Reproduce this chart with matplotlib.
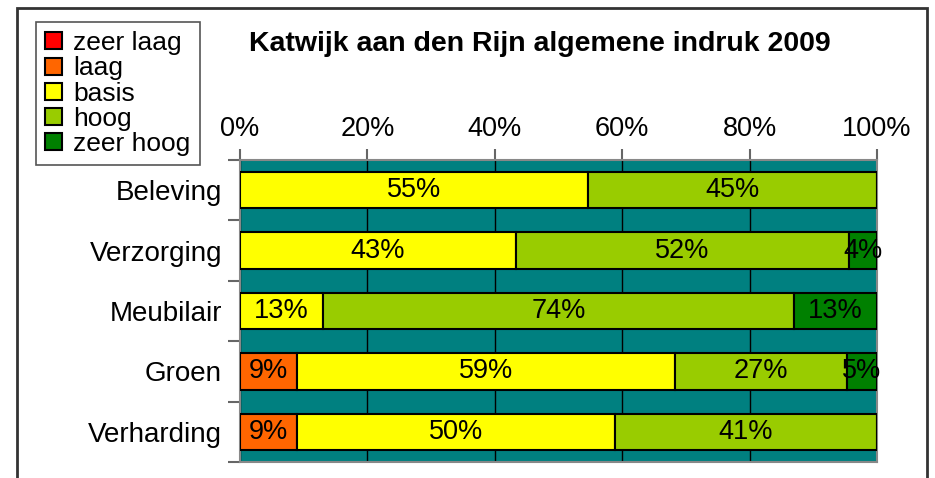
import numpy as np
from matplotlib import pyplot as plt
from matplotlib.patches import Rectangle

plt.rcParams['font.family'] = ['Liberation Sans', 'DejaVu Sans']

# categories (top to bottom)
categories = ['Beleving', 'Verzorging', 'Meubilair', 'Groen', 'Verharding']

# shares per level (%)
zeer_laag = [0, 0, 0, 0, 0]
laag = [0, 0, 0, 8.9, 8.9]
basis = [54.6, 43.3, 13.0, 59.4, 50.0]
hoog = [45.4, 52.3, 74.0, 27.0, 41.1]
zeer_hoog = [0, 4.4, 13.0, 4.7, 0]

series_names = ['zeer laag', 'laag', 'basis', 'hoog', 'zeer hoog']
series_values = [zeer_laag, laag, basis, hoog, zeer_hoog]
colors = ['#FF0000', '#FF6600', '#FFFF00', '#99CC00', '#008000']

x_ticks = [0, 20, 40, 60, 80, 100]
x_tick_labels = ['0%', '20%', '40%', '60%', '80%', '100%']

fig = plt.figure(figsize=(9.35, 4.78), dpi=100)
ax = fig.add_axes([240 / 935, 1 - 462 / 478, 637 / 935, 302 / 478])
ax.set_facecolor('#008080')

y = np.arange(len(categories))
left = np.zeros(len(categories))
for name, vals, col in zip(series_names, series_values, colors):
    vals = np.array(vals, dtype=float)
    bars = ax.barh(y, vals, left=left, height=0.6, color=col,
                   edgecolor='black', linewidth=1.5, label=name, zorder=3)
    for b, v in zip(bars, vals):
        if v > 0:
            ax.text(b.get_x() + b.get_width() / 2, b.get_y() + b.get_height() / 2,
                    '%d%%' % round(v), ha='center', va='center',
                    fontsize=19.5, color='black', zorder=4)
    left += vals

ax.set_xlim(0, 100)
ax.set_ylim(len(categories) - 0.5, -0.5)
ax.set_yticks(np.arange(len(categories) + 1) - 0.5, minor=False)
ax.set_yticklabels([])
ax.set_yticks(y, minor=True)
ax.set_yticklabels(categories, minor=True, fontsize=20)
ax.tick_params(axis='y', which='minor', length=0, pad=13)
ax.tick_params(axis='y', which='major', length=9, color='#666666', width=1.5)

ax.xaxis.tick_top()
ax.set_xticks(x_ticks)
ax.set_xticklabels(x_tick_labels, fontsize=19.5)
ax.tick_params(axis='x', length=8, color='#666666', width=1.5, pad=5)
ax.grid(axis='x', color='black', linewidth=1, zorder=1)
ax.set_axisbelow(True)
for s in ax.spines.values():
    s.set_color('#888888')
    s.set_linewidth(1.5)

fig.text(540 / 935, 1 - 44 / 478, 'Katwijk aan den Rijn algemene indruk 2009',
         ha='center', va='center', fontsize=20.5, fontweight='bold')

leg = fig.legend(loc='upper left', bbox_to_anchor=(36 / 935, 1 - 22 / 478),
                 bbox_transform=fig.transFigure, borderaxespad=0,
                 fontsize=19, fancybox=False, framealpha=1, edgecolor='#555555',
                 handlelength=0.62, handleheight=0.62, handletextpad=0.45,
                 labelspacing=0.045, borderpad=0.35)
leg.get_frame().set_linewidth(1.2)

fig.patches.append(Rectangle((17 / 935, -0.05), 910 / 935, 1.05 - 8 / 478,
                             transform=fig.transFigure, fill=False,
                             edgecolor='#333333', linewidth=2))

fig.savefig('out.png', dpi=100)
